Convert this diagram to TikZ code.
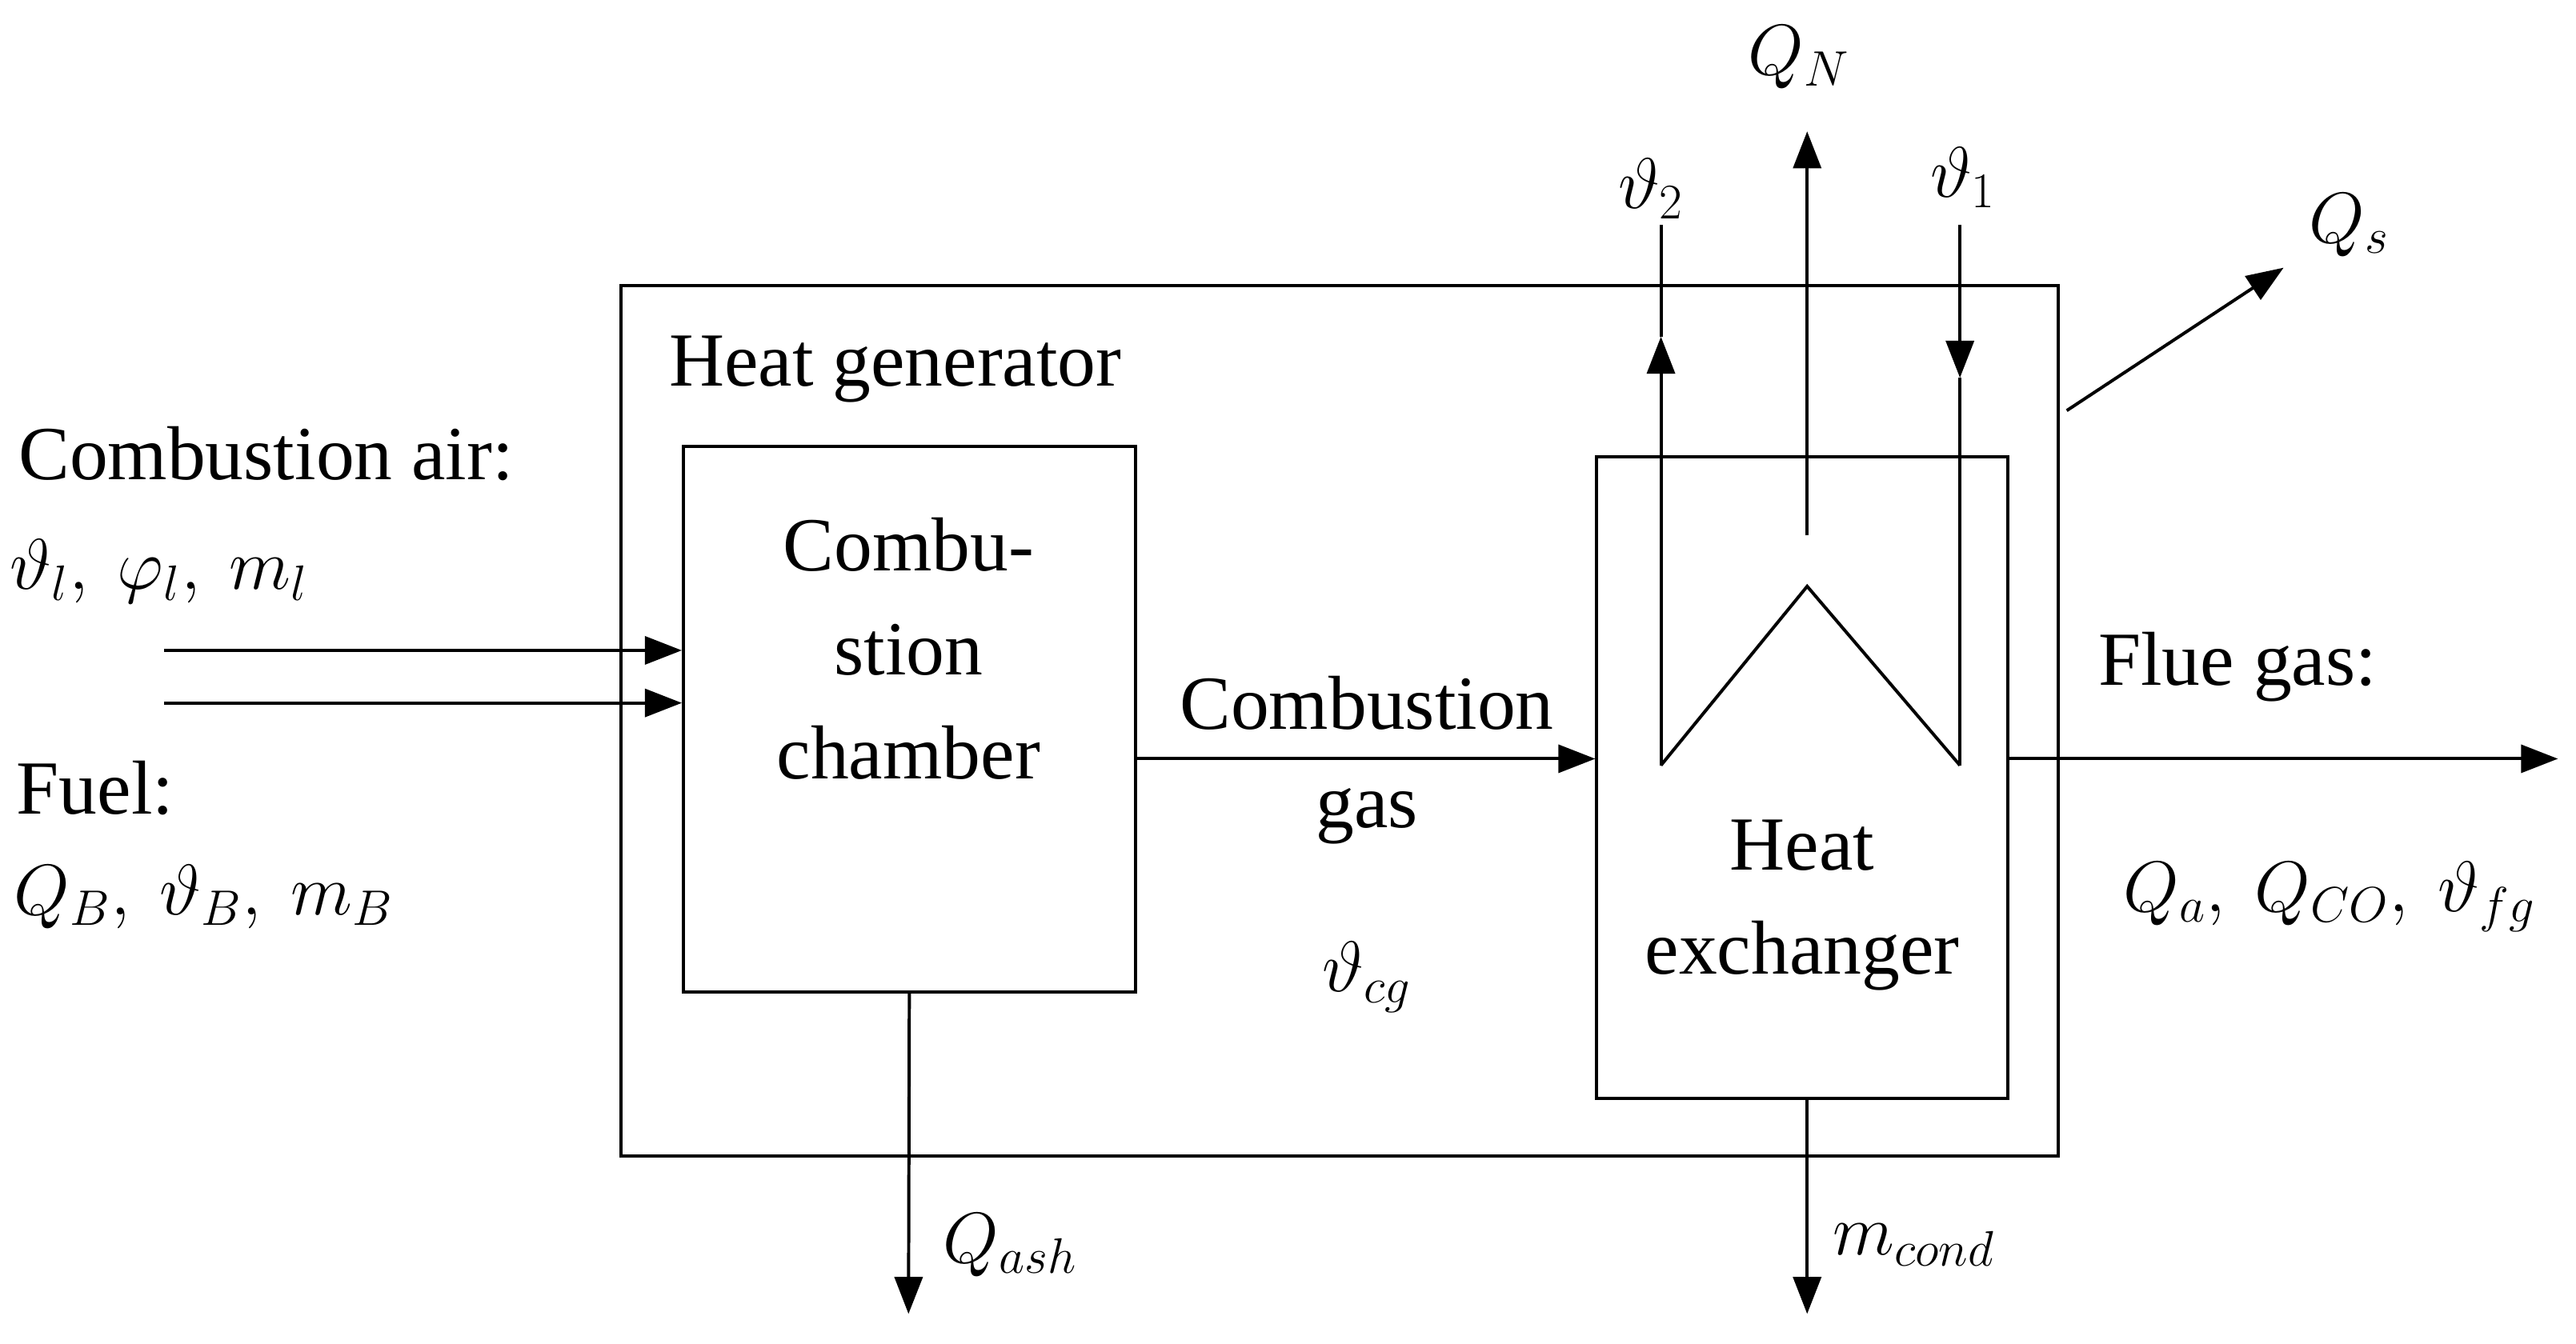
\documentclass[tikz,border=0pt]{standalone}
\usepackage{fontspec}
\setmainfont{Liberation Serif}
\usetikzlibrary{arrows.meta}
\begin{document}
\begin{tikzpicture}[x=0.02cm,y=-0.02cm,line width=1.1pt,
  arr/.style={-{Triangle[length=0.45cm,width=0.34cm]}},
  box/.style={draw,line width=1.1pt},
  lab/.style={font=\fontsize{26.5}{31}\selectfont,align=center},
  ml/.style={font=\fontsize{24}{28}\selectfont}]
\useasboundingbox (0,0) rectangle (1568,818);
\draw[box] (378,174) rectangle (1253,704);
\node[box,minimum width=275*0.02cm,minimum height=332*0.02cm] (cc) at (553.5,438) {};
\node[box,minimum width=250*0.02cm,minimum height=391*0.02cm] (he) at (1097,473.5) {};
\coordinate (a1) at (100,396); \coordinate (a2) at (100,428);
\draw[arr] (a1) -- (cc.west|-a1);
\draw[arr] (a2) -- (cc.west|-a2);
\draw[arr] (cc.east|-0,462) -- (he.west|-0,462);
\coordinate (fg) at (1557,462);
\draw[arr] (he.east|-0,462) -- (fg);
\coordinate (qa) at (553,800); \draw[arr] (cc.south) -- (qa);
\coordinate (mc) at (1100,800); \draw[arr] (1100,669) -- (mc);
\coordinate (qn0) at (1100,326); \coordinate (qn) at (1100,80); \draw[arr] (qn0) -- (qn);
\coordinate (z1) at (1011,466); \coordinate (z2) at (1100,357); \coordinate (z3) at (1193,466);
\draw (z1) -- (z2) -- (z3);
\coordinate (t2m) at (1011,205); \coordinate (t2) at (1011,137);
\draw[arr] (z1) -- (t2m); \draw (t2m) -- (t2);
\coordinate (t1m) at (1193,230); \coordinate (t1) at (1193,137);
\draw[arr] (t1) -- (t1m); \draw (t1m) -- (z3);
\coordinate (s0) at (1258,250); \coordinate (s1) at (1390,163);
\draw[arr] (s0) -- (s1);
\node[lab] (hg) at (545,225) {Heat generator};
\node[lab] at (553,395) {Combu-\\[5pt]stion\\[5pt]chamber};
\node[lab] at (1097,551) {Heat\\[5pt]exchanger};
\node[lab] (ca) at (162,276) {Combustion air:};
\node[lab] (fu) at (58,480) {Fuel:};
\node[lab] (cg) at (832,428) {Combustion};
\node[lab] (gs) at (832,497) {gas};
\node[lab] (flg) at (1362,406) {Flue gas:};
\node[ml] at (97,348) {$\vartheta_l,\ \varphi_l,\ m_l$};
\node[ml] at (124,546) {$Q_B,\ \vartheta_B,\ m_B$};
\node[ml] at (832,595) {$\vartheta_{cg}$};
\node[ml] at (1418,546) {$Q_a,\ Q_{CO},\ \vartheta_{fg}$};
\node[ml] at (1095,35) {$Q_N$};
\node[ml] at (1005,115) {$\vartheta_2$};
\node[ml] at (1195,108) {$\vartheta_1$};
\node[ml] at (1430,137) {$Q_s$};
\node[ml] at (615,758) {$Q_{ash}$};
\node[ml] at (1165,758) {$m_{cond}$};
\end{tikzpicture}
\end{document}
